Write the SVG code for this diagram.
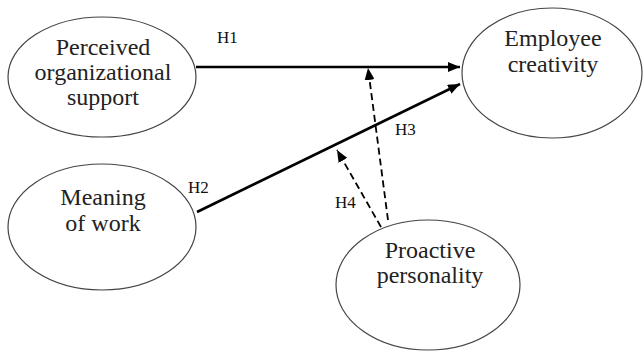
<svg xmlns="http://www.w3.org/2000/svg" width="644" height="354" viewBox="0 0 644 354">
<style>
.node ellipse{fill:#fff;stroke:#444;stroke-width:1.2}
.node text{font-family:'Liberation Serif','Times New Roman','DejaVu Serif',serif;font-size:24px;fill:#222;text-anchor:middle}
.lbl{font-family:'Liberation Serif','Times New Roman','DejaVu Serif',serif;font-size:17px;fill:#111}
.solid{stroke:#000;stroke-width:2.6;fill:none}
.dash{stroke:#000;stroke-width:1.8;fill:none;stroke-dasharray:7 4}
</style>
<defs>
<marker id="ah" viewBox="0 0 12 10" refX="12" refY="5" markerWidth="12" markerHeight="10" markerUnits="userSpaceOnUse" orient="auto">
<path d="M0,0 L12,5 L0,10 Z" fill="#000"/>
</marker>
</defs>
<rect width="644" height="354" fill="#fff"/>
<g id="pos" class="node">
<ellipse cx="102" cy="77" rx="94" ry="60"/>
<text x="103" y="55">Perceived</text>
<text x="103" y="80">organizational</text>
<text x="103" y="105">support</text>
</g>
<g id="mow" class="node">
<ellipse cx="102" cy="227" rx="94" ry="63"/>
<text x="103" y="205">Meaning</text>
<text x="103" y="231">of work</text>
</g>
<g id="ec" class="node">
<ellipse cx="552" cy="73" rx="90" ry="65"/>
<text x="553" y="46">Employee</text>
<text x="553" y="72">creativity</text>
</g>
<g id="pp" class="node">
<ellipse cx="428" cy="285" rx="92" ry="65"/>
<text x="430" y="258">Proactive</text>
<text x="430" y="283">personality</text>
</g>
<g id="connectors">
<line class="solid" x1="196" y1="67" x2="460" y2="67" marker-end="url(#ah)"/>
<line class="solid" x1="197" y1="212" x2="460" y2="84" marker-end="url(#ah)"/>
<line class="dash" x1="388" y1="220" x2="368" y2="68" marker-end="url(#ah)"/>
<line class="dash" x1="381" y1="227" x2="337" y2="150" marker-end="url(#ah)"/>
<text class="lbl" x="217" y="43">H1</text>
<text class="lbl" x="188" y="193">H2</text>
<text class="lbl" x="395" y="135">H3</text>
<text class="lbl" x="335" y="208">H4</text>
</g>
</svg>
